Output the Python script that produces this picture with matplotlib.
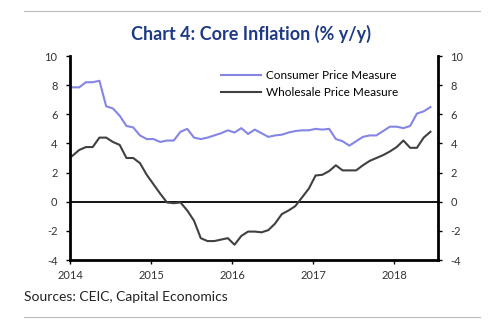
#!/usr/bin/env python3
"""Core inflation chart, consumer vs wholesale measures"""

import numpy as np
import matplotlib
matplotlib.use("Agg")
import matplotlib.pyplot as plt
from matplotlib.lines import Line2D

# monthly values, Jan 2014 to Jun 2018
consumer = [7.85, 7.85, 8.2, 8.2, 8.3, 6.55, 6.4, 5.9, 5.2, 5.1, 4.55, 4.3,
            4.3, 4.1, 4.2, 4.2, 4.8, 5.0, 4.4, 4.3, 4.4, 4.55, 4.7, 4.9,
            4.75, 5.05, 4.65, 4.95, 4.7, 4.45, 4.55, 4.6, 4.75, 4.85, 4.9, 4.9,
            5.0, 4.95, 5.0, 4.3, 4.15, 3.85, 4.15, 4.45, 4.55, 4.55, 4.85, 5.15,
            5.15, 5.05, 5.2, 6.05, 6.2, 6.5]
wholesale = [3.15, 3.55, 3.75, 3.75, 4.4, 4.4, 4.1, 3.9, 3.0, 3.0, 2.65, 1.85,
             1.2, 0.55, -0.05, -0.1, -0.05, -0.6, -1.3, -2.5, -2.7, -2.7, -2.6, -2.5,
             -2.95, -2.35, -2.05, -2.05, -2.1, -1.95, -1.5, -0.85, -0.6, -0.3, 0.3, 0.9,
             1.8, 1.85, 2.1, 2.5, 2.15, 2.15, 2.15, 2.5, 2.8, 3.0, 3.2, 3.45,
             3.75, 4.2, 3.7, 3.7, 4.4, 4.8]
years = [2014, 2015, 2016, 2017, 2018]
yticks = [-4, -2, 0, 2, 4, 6, 8, 10]

plt.rcParams['font.family'] = ['Lato', 'DejaVu Sans']
plt.rcParams['axes.unicode_minus'] = False

months = 2014.03 + np.arange(len(consumer)) / 12.0

fig = plt.figure(figsize=(4.89, 3.21), dpi=100)
ax = fig.add_axes([0.1431, 0.19, 0.7526, 0.6355])

ax.axhline(0, color='black', lw=1.3, zorder=1)
ax.plot(months, consumer, color='#8585E6', lw=1.5, label='Consumer Price Measure')
ax.plot(months, wholesale, color='#404040', lw=1.5, label='Wholesale Price Measure')

ax.set_xlim(2014, 2018.54)
ax.set_ylim(-4, 10)
ax.set_xticks(years)
ax.set_yticks(yticks)

ax.spines['top'].set_visible(False)
for s in ['left', 'right', 'bottom']:
    ax.spines[s].set_linewidth(2)
ax.tick_params(axis='y', which='both', left=True, right=True, labelright=True,
               direction='out', length=3, width=1, pad=6,
               labelsize=8, labelcolor='#333333')
ax.tick_params(axis='x', direction='out', length=3, width=1, pad=4,
               labelsize=8, labelcolor='#333333')

ax.legend(loc='upper right', bbox_to_anchor=(0.905, 0.955), frameon=False,
          fontsize=8.5, handlelength=3.4, handletextpad=0.4, labelspacing=0.5,
          borderaxespad=0)

fig.text(0.513, 0.895, 'Chart 4: Core Inflation (% y/y)', ha='center', va='center',
         fontsize=13, fontweight='bold', color='#1F3A85')
fig.text(0.05, 0.075, 'Sources: CEIC, Capital Economics', ha='left', va='center',
         fontsize=10, color='#222222')

fig.add_artist(Line2D([0.049, 0.982], [0.966, 0.966], color='#BBBBBB', lw=0.8))
fig.add_artist(Line2D([0.049, 0.982], [0.013, 0.013], color='#BBBBBB', lw=0.8))

fig.savefig('out.png', dpi=100)
